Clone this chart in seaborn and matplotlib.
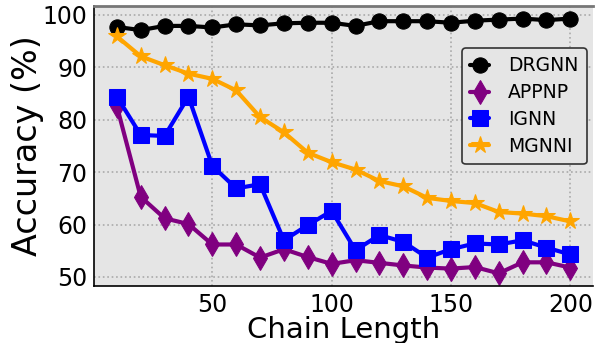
import seaborn as sns
import matplotlib.pyplot as plt
import pandas as pd

chain_length = [10, 20, 30, 40, 50, 60, 70, 80, 90, 100,
                110, 120, 130, 140, 150, 160, 170, 180, 190, 200]
drgnn = [97.7, 97.1, 97.9, 97.9, 97.6, 98.2, 98.0, 98.4, 98.5, 98.5,
         97.9, 98.8, 98.8, 98.8, 98.5, 98.9, 99.1, 99.3, 99.0, 99.3]
appnp = [82.6, 65.3, 61.2, 60.1, 56.2, 56.2, 53.7, 55.3, 53.8, 52.5,
         53.2, 52.7, 52.2, 51.8, 51.6, 51.9, 50.7, 52.8, 52.8, 51.8]
ignn = [84.4, 77.1, 76.9, 84.4, 71.2, 66.9, 67.7, 57.0, 59.9, 62.6,
        55.1, 58.0, 56.7, 53.7, 55.3, 56.4, 56.2, 57.0, 55.6, 54.3]
mgnni = [95.9, 92.1, 90.4, 88.8, 87.8, 85.6, 80.5, 77.6, 73.7, 71.9,
         70.5, 68.3, 67.3, 65.1, 64.5, 64.1, 62.4, 62.1, 61.6, 60.6]

series = {"DRGNN": drgnn, "APPNP": appnp, "IGNN": ignn, "MGNNI": mgnni}
colors = {"DRGNN": "black", "APPNP": "purple", "IGNN": "blue", "MGNNI": "orange"}
markers = {"DRGNN": "o", "APPNP": "d", "IGNN": "s", "MGNNI": "*"}
sizes = {"DRGNN": 11, "APPNP": 12, "IGNN": 11, "MGNNI": 13}

sns.set_style("whitegrid")
plt.rcParams["font.family"] = ["DejaVu Sans"]
plt.rcParams["text.color"] = "black"
plt.rcParams["axes.labelcolor"] = "black"
plt.rcParams["xtick.color"] = "black"
plt.rcParams["ytick.color"] = "black"

fig, ax = plt.subplots(figsize=(5.96, 3.43), dpi=100)
ax.set_facecolor("#e5e5e5")

for name, vals in series.items():
    df = pd.DataFrame({"x": chain_length, "y": vals})
    sns.lineplot(data=df, x="x", y="y", ax=ax, color=colors[name],
                 marker=markers[name], markersize=sizes[name], linewidth=3,
                 markeredgecolor=colors[name], label=name)

ax.set_xlabel("Chain Length", fontsize=21, labelpad=-0.5)
ax.set_ylabel("Accuracy (%)", fontsize=24, labelpad=-1)
ax.set_xticks([50, 100, 150, 200])
ax.set_yticks([50, 60, 70, 80, 90, 100])
ax.tick_params(axis="both", labelsize=17, length=3, pad=2, color="#555555")
ax.grid(True, color="#aaaaaa", linestyle=":", linewidth=1.2)

for s in ["left", "bottom"]:
    ax.spines[s].set_color("black")
    ax.spines[s].set_linewidth(1.2)
ax.spines["top"].set_color("#777777")
ax.spines["top"].set_linewidth(2)
ax.spines["right"].set_visible(False)

leg = ax.legend(loc="upper right", bbox_to_anchor=(0.987, 0.85), borderaxespad=0,
                fontsize=13.5, frameon=True, fancybox=True, borderpad=0.45,
                labelspacing=0.42, handlelength=1.0, handletextpad=1.0)
leg.get_frame().set_facecolor("#e5e5e5")
leg.get_frame().set_edgecolor("#333333")
leg.get_frame().set_alpha(1)
leg.get_frame().set_linewidth(1.2)

plt.subplots_adjust(left=0.158, right=0.995, top=0.983, bottom=0.166)
fig.savefig("out.png", dpi=100)
